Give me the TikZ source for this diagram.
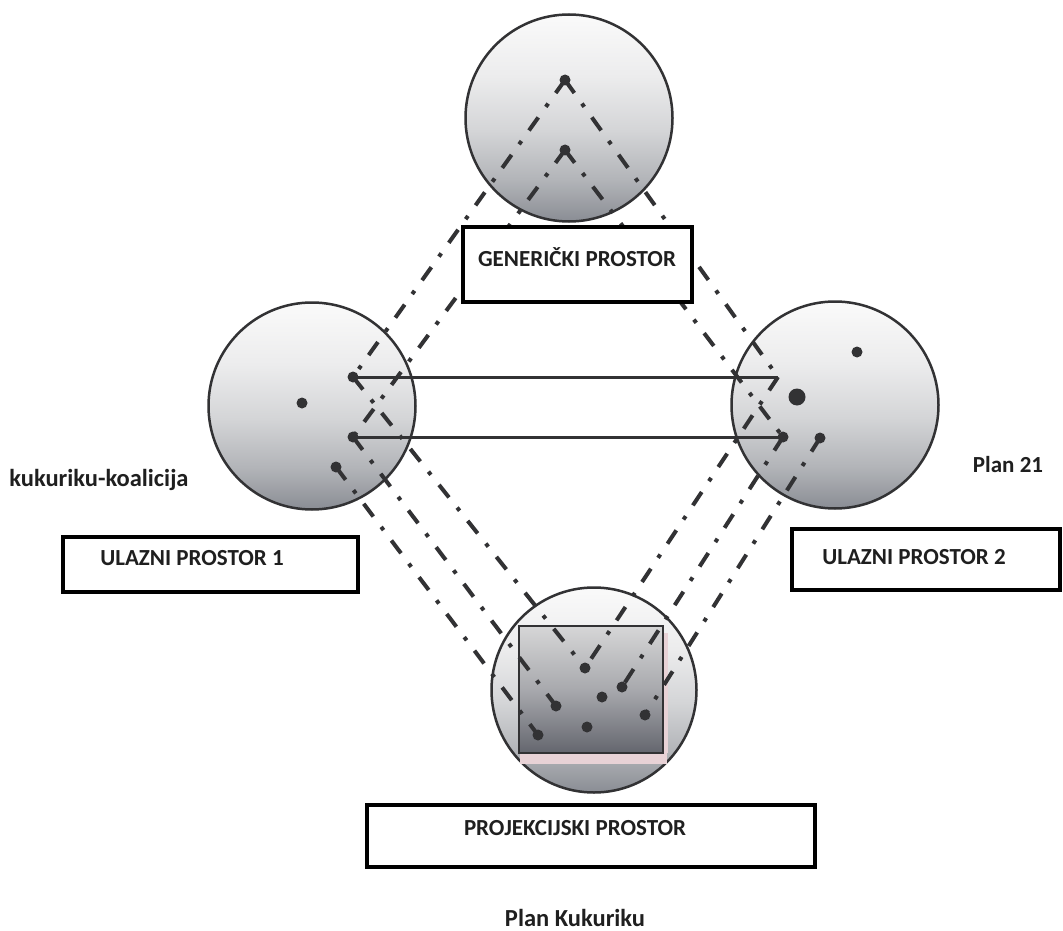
\documentclass[tikz,border=0pt]{standalone}
\usepackage{fontspec}
\setmainfont{Carlito}
\definecolor{dk}{RGB}{50,50,52}
\definecolor{ctop}{RGB}{250,250,250}
\definecolor{cmidA}{RGB}{236,236,237}
\definecolor{cmidB}{RGB}{212,213,215}
\definecolor{cmidC}{RGB}{178,180,184}
\definecolor{cbot}{RGB}{138,141,148}
\definecolor{rtop}{RGB}{214,214,215}
\definecolor{rmid}{RGB}{168,169,173}
\definecolor{rbot}{RGB}{100,102,110}
\definecolor{pinkband}{RGB}{232,210,214}
\pgfdeclareverticalshading{spacesh}{100bp}{color(0bp)=(cbot); color(25bp)=(cbot); color(35bp)=(cmidC); color(47bp)=(cmidB); color(60bp)=(cmidA); color(75bp)=(ctop); color(100bp)=(ctop)}
\pgfdeclareverticalshading{rectsh}{100bp}{color(0bp)=(rbot); color(25bp)=(rbot); color(50bp)=(rmid); color(75bp)=(rtop); color(100bp)=(rtop)}
\begin{document}
\begin{tikzpicture}[x=1pt,y=-1pt,
  space/.style={circle, draw=dk, line width=2.5pt, minimum size=207pt, inner sep=0pt, shading=spacesh},
  blendrect/.style={rectangle, draw=dk, line width=2pt, minimum width=144pt, minimum height=127pt, inner sep=0pt, shading=rectsh},
  dd/.style={draw=dk, line width=4pt, dash pattern=on 16pt off 13pt on 4pt off 13pt},
  mapline/.style={draw=dk, line width=3pt},
  dot/.style={circle, fill=dk, inner sep=0pt, minimum size=11pt},
  bigdot/.style={circle, fill=dk, inner sep=0pt, minimum size=17pt},
  labelbox/.style={rectangle, draw=black, line width=4pt, fill=white, inner sep=0pt},
  lbl/.style={font=\bfseries\fontsize{23}{27}\selectfont, text=black!88, inner sep=0pt},
  biglbl/.style={lbl, font=\bfseries\fontsize{24.5}{28}\selectfont}
]
\useasboundingbox (0,0) rectangle (1063,931);
\fill[white] (0,0) rectangle (1063,931);

% spaces
\node[space] (gen) at (569,118) {};
\node[space] (in1) at (312,406) {};
\node[space] (in2) at (835,405) {};
\node[space, minimum size=205pt] (blend) at (594,690) {};
\fill[pinkband] (520,753) rectangle (667,764);
\fill[pinkband] (662,633) rectangle (668,753);
\node[blendrect] (brect) at (591,689.5) {};

% element positions
\coordinate (t1) at (565,80);
\coordinate (t2) at (565,150);
\coordinate (l0) at (302,403);
\coordinate (l1) at (353,377);
\coordinate (l2) at (353,437);
\coordinate (l3) at (336,467);
\coordinate (r0) at (857,352);
\coordinate (rb) at (797,397);
\coordinate (rc) at (778,377);
\coordinate (r2) at (783,437);
\coordinate (r3) at (820,438);
\coordinate (b1) at (585,668);
\coordinate (b2) at (622,687);
\coordinate (b3) at (602,697);
\coordinate (b4) at (556,706);
\coordinate (b5) at (645,715);
\coordinate (b6) at (587,727);
\coordinate (b7) at (538,735);

% generic -> inputs
\draw[dd] (t1) -- (l1);
\draw[dd] (t2) -- (l2);
\draw[dd] (t1) -- (rc);
\draw[dd] (t2) -- (r2);
% inputs -> blend
\draw[dd] (l1) -- (b1);
\draw[dd] (l2) -- (b4);
\draw[dd] (l3) -- (b7);
\draw[dd] (rc) -- (b1);
\draw[dd] (r2) -- (b2);
\draw[dd] (r3) -- (b5);
% cross-space mapping
\draw[mapline] (l1) -- (rc);
\draw[mapline] (l2) -- (r2);

% dots
\node[dot] (dt1) at (t1) {};
\node[dot] (dt2) at (t2) {};
\node[dot] (dl0) at (l0) {};
\node[dot] (dl1) at (l1) {};
\node[dot] (dl2) at (l2) {};
\node[dot] (dl3) at (l3) {};
\node[dot] (dr0) at (r0) {};
\node[bigdot] (drb) at (rb) {};
\node[dot] (dr2) at (r2) {};
\node[dot] (dr3) at (r3) {};
\node[dot] (db1) at (b1) {};
\node[dot] (db2) at (b2) {};
\node[dot] (db3) at (b3) {};
\node[dot] (db4) at (b4) {};
\node[dot] (db5) at (b5) {};
\node[dot] (db6) at (b6) {};
\node[dot] (db7) at (b7) {};

% label boxes
\node[labelbox, minimum width=229pt, minimum height=75pt] (genbox) at (577.5,264.5) {};
\node[lbl] (gentxt) at (577,257) {GENERIČKI PROSTOR};
\node[labelbox, minimum width=295pt, minimum height=55pt] (in1box) at (210.5,564.5) {};
\node[lbl] (in1txt) at (192,558) {ULAZNI PROSTOR 1};
\node[labelbox, minimum width=268pt, minimum height=61pt] (in2box) at (926,559.5) {};
\node[lbl] (in2txt) at (914,557) {ULAZNI PROSTOR 2};
\node[labelbox, minimum width=448pt, minimum height=62pt] (blbox) at (591,836) {};
\node[lbl] (bltxt) at (575,828) {PROJEKCIJSKI PROSTOR};

% free labels
\node[biglbl] (kk) at (99,480) {kukuriku-koalicija};
\node[lbl] (p21) at (1008,465) {Plan 21};
\node[biglbl] (pk) at (575,918) {Plan Kukuriku};
\end{tikzpicture}
\end{document}
